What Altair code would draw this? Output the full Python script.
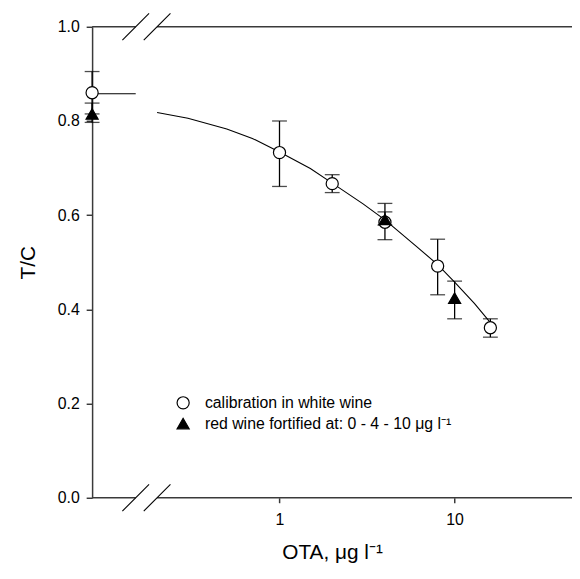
import altair as alt
import pandas as pd

# ---- data ----
cal_conc = [0, 1, 2, 4, 8, 16]
cal_tc = [0.860, 0.733, 0.667, 0.585, 0.492, 0.361]
cal_lo = [0.815, 0.661, 0.648, 0.548, 0.431, 0.341]
cal_hi = [0.905, 0.800, 0.686, 0.625, 0.549, 0.380]

red_conc = [0, 4, 10]
red_tc = [0.815, 0.591, 0.424]
red_lo = [0.797, 0.579, 0.380]
red_hi = [0.838, 0.607, 0.460]

fit_conc = [0.2, 0.3, 0.5, 0.7, 1, 1.5, 2, 3, 4, 6, 8, 10, 13, 16]
fit_tc = [0.818, 0.806, 0.783, 0.763, 0.734, 0.699, 0.668, 0.624, 0.590,
          0.535, 0.495, 0.458, 0.412, 0.372]
fit_at_zero = 0.858

series_names = ["calibration in white wine",
                "red wine fortified at: 0 - 4 - 10 \u03bcg l\u207b\u00b9"]
x_ticks = [1, 10]
y_ticks = [0, 0.2, 0.4, 0.6, 0.8, 1.0]

# broken-axis layout (in x data units on the log scale)
ZERO_AT = 0.0851       # where the "0" concentration is drawn
X_MAX = 46.8
BREAK_L, BREAK_R = 0.151, 0.2
SLASH_F = 1.192        # half-width factor of a break slash
SLASH_DY = 0.0283      # half-height of a break slash (y units)

FONT = "Liberation Sans"
AX = "#3a3a3a"

# ---- tables ----
pts = pd.DataFrame({
    "series": [series_names[0]] * len(cal_conc) + [series_names[1]] * len(red_conc),
    "conc": cal_conc + red_conc,
    "tc": cal_tc + red_tc,
    "lo": cal_lo + red_lo,
    "hi": cal_hi + red_hi,
})
fit = pd.DataFrame({"conc": fit_conc, "tc": fit_tc})
fit0 = pd.DataFrame({"pos": [ZERO_AT, BREAK_L], "tc": [fit_at_zero, fit_at_zero]})

frame = pd.DataFrame({
    "x1": [ZERO_AT, BREAK_R, ZERO_AT, BREAK_R],
    "x2": [BREAK_L, X_MAX, BREAK_L, X_MAX],
    "y": [0, 0, 1, 1],
})
slashes = pd.DataFrame({
    "x1": [BREAK_L / SLASH_F, BREAK_R / SLASH_F] * 2,
    "x2": [BREAK_L * SLASH_F, BREAK_R * SLASH_F] * 2,
    "y1": [-SLASH_DY, -SLASH_DY, 1 - SLASH_DY, 1 - SLASH_DY],
    "y2": [SLASH_DY, SLASH_DY, 1 + SLASH_DY, 1 + SLASH_DY],
})

xscale = alt.Scale(type="log", domain=[ZERO_AT, X_MAX], nice=False)
yscale = alt.Scale(domain=[0, 1], nice=False)
xaxis = alt.Axis(values=x_ticks, format="~g", domain=False, grid=False,
                 tickSize=5, labelPadding=9, title="OTA, \u03bcg l\u207b\u00b9",
                 titlePadding=14)
yaxis = alt.Axis(values=y_ticks, format=".1f", grid=False, tickSize=6,
                 labelPadding=7, title="T/C", titlePadding=19)


def X(field):
    return alt.X(field, type="quantitative", scale=xscale, axis=xaxis)


def Y(field):
    return alt.Y(field, type="quantitative", scale=yscale, axis=yaxis)


pos_expr = f"datum.conc > 0 ? datum.conc : {ZERO_AT}"

base_pts = alt.Chart(pts).transform_calculate(pos=pos_expr)

bars = base_pts.mark_rule(color="black", strokeWidth=1.3).encode(
    x=X("pos"), y=Y("lo"), y2="hi")
cap_lo = base_pts.mark_tick(orient="horizontal", size=15, thickness=1.3,
                            color="black").encode(x=X("pos"), y=Y("lo"))
cap_hi = base_pts.mark_tick(orient="horizontal", size=15, thickness=1.3,
                            color="black").encode(x=X("pos"), y=Y("hi"))

curve = alt.Chart(fit).mark_line(color="black", strokeWidth=1.1).encode(
    x=X("conc"), y=Y("tc"))
curve0 = alt.Chart(fit0).mark_line(color="black", strokeWidth=1.1).encode(
    x=X("pos"), y=Y("tc"))

leg = alt.Legend(title=None, orient="none", legendX=84, legendY=372)
points = base_pts.mark_point(filled=True, strokeWidth=1.2,
                             size=150, opacity=1).encode(
    x=X("pos"), y=Y("tc"),
    shape=alt.Shape("series:N", sort=series_names,
                    scale=alt.Scale(domain=series_names,
                                    range=["circle", "triangle-up"]),
                    legend=leg),
    fill=alt.Fill("series:N", sort=series_names,
                  scale=alt.Scale(domain=series_names, range=["white", "black"]),
                  legend=leg),
    stroke=alt.Stroke("series:N", sort=series_names,
                      scale=alt.Scale(domain=series_names, range=["black", "black"]),
                      legend=leg),
)

frame_lines = alt.Chart(frame).mark_rule(color=AX, strokeWidth=1.5).encode(
    x=X("x1"), x2="x2", y=Y("y"))
slash_lines = alt.Chart(slashes).mark_rule(color="black", strokeWidth=1.1).encode(
    x=X("x1"), x2="x2", y=Y("y1"), y2="y2")

chart = alt.layer(
    frame_lines, slash_lines, bars, cap_lo, cap_hi, curve0, curve, points
).properties(
    width=485, height=476,
    autosize=alt.AutoSizeParams(type="none"),
    padding={"left": 85, "top": 16, "right": 0, "bottom": 70},
).configure_view(stroke=None).configure_axis(
    labelFont=FONT, titleFont=FONT, labelFontSize=16, titleFontSize=21,
    titleFontWeight="normal", labelColor="black", titleColor="black",
    domainColor=AX, domainWidth=1.5, tickColor=AX, tickWidth=1.5,
).configure_legend(
    labelFont=FONT, labelFontSize=16, labelColor="black", padding=0,
    symbolSize=150, symbolStrokeColor="black", symbolStrokeWidth=1.2,
    labelOffset=14, rowPadding=4, labelLimit=400,
)

chart.save("out.html", embed_options={"renderer": "svg", "actions": False})
